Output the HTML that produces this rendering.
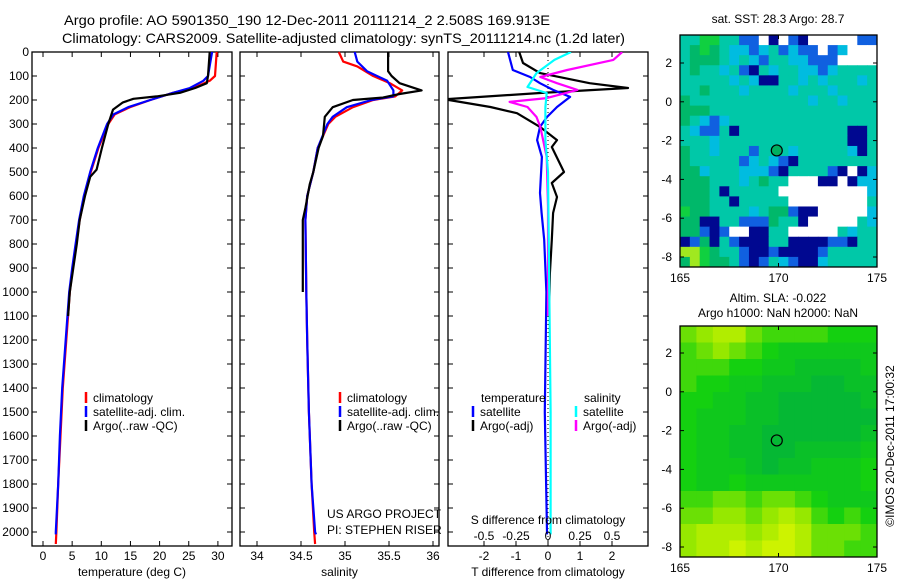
<!DOCTYPE html>
<html><head><meta charset="utf-8">
<style>
html,body{margin:0;padding:0;background:#fff;}
svg{display:block;font-family:"Liberation Sans",sans-serif;}
</style></head>
<body>
<svg id="chart" width="900" height="580" viewBox="0 0 900 580" xmlns="http://www.w3.org/2000/svg">
<rect width="900" height="580" fill="#fff"/>
<text x="64" y="25" font-size="14" textLength="486" lengthAdjust="spacingAndGlyphs">Argo profile: AO 5901350_190 12-Dec-2011 20111214_2 2.508S 169.913E</text>
<text x="62" y="43" font-size="14" textLength="563" lengthAdjust="spacingAndGlyphs">Climatology: CARS2009. Satellite-adjusted climatology: synTS_20111214.nc (1.2d later)</text>
<g id="g"></g>
</svg>
<script>
// ---------- profile data ----------
const tDepthClim = [0,100,120,150,170,200,230,260,300,400,500,600,700,800,900,1000,1200,1400,1600,1800,2000,2050];
const tClim      = [29.8,29.5,28.6,25.8,22.3,18.4,14.9,12.3,11.2,9.5,8.2,7.1,6.3,5.7,5.1,4.6,4.0,3.4,3.0,2.6,2.3,2.2];
const tDepthSat  = [0,100,120,150,170,200,230,260,300,400,500,600,700,800,900,1000,1200,1400,1600,1800,1900,2000,2010];
const tSat       = [29.0,28.3,27.5,25.2,22.3,18.4,14.6,12.1,11.0,9.4,8.1,7.0,6.2,5.6,5.0,4.5,3.9,3.3,2.9,2.6,2.4,2.2,2.2];
const tDepthArgo = [0,100,130,150,170,185,195,210,240,300,400,490,520,600,700,800,900,1000,1100];
const tArgo      = [28.6,28.3,28.1,26.1,23.5,19.5,15.5,13.7,12.0,11.2,10.1,9.2,8.1,7.2,6.3,5.8,5.2,4.6,4.3];

const sDepthClim = [0,40,60,100,130,160,185,200,230,270,300,400,500,600,700,1000,1200,1500,1800,2000,2050];
const sClim      = [34.93,34.98,35.14,35.32,35.51,35.65,35.57,35.32,35.09,34.89,34.81,34.69,34.64,34.57,34.55,34.56,34.57,34.59,34.62,34.65,34.66];
const sDepthSat  = [0,40,80,120,160,185,200,230,270,300,400,500,600,700,1000,1200,1500,1800,2000,2010];
const sSat       = [35.11,35.14,35.25,35.48,35.55,35.55,35.30,35.02,34.86,34.80,34.69,34.64,34.57,34.55,34.56,34.57,34.59,34.62,34.66,34.67];
const sDepthArgo = [0,80,100,130,160,175,190,200,230,270,350,400,500,550,650,700,1000];
const sArgo      = [35.49,35.49,35.53,35.62,35.87,35.62,35.43,35.09,34.86,34.77,34.75,34.70,34.64,34.60,34.55,34.52,34.52];

const dDepthTArgo = [0,46,88,130,150,171,196,200,229,255,312,367,396,500,546,604,671,783,921,1100];
const dTArgo      = [-0.9,-0.78,-0.25,1.3,2.5,-0.25,-3.1,-3.1,-1.8,-0.97,-0.25,0.28,0.12,0.5,0.12,0.28,0.16,0.12,0.06,0.03];
const dDepthTSat  = [0,75,104,130,158,187,229,271,312,367,437,587,671,783,1000,1500,2000,2010];
const dTSat       = [-1.25,-1.1,-0.56,-0.25,0.16,0.69,0.28,-0.03,-0.25,-0.34,-0.19,-0.25,-0.2,-0.12,-0.05,-0.1,-0.03,-0.03];
const dDepthSSat  = [0,33,88,146,171,229,367,500,1000,1500,2000,2010];
const dSSat       = [0.18,0.05,-0.09,-0.16,-0.01,-0.02,-0.02,0.0,0.01,0.02,0.02,0.02];
const dDepthSArgo = [0,33,75,104,130,158,192,208,229,271,312,437,646,921,1100];
const dSArgo      = [0.58,0.51,0.15,-0.06,0.07,0.23,-0.01,-0.30,-0.16,-0.09,-0.06,-0.01,0.0,0.0,0.0];

const depthTicks = [0,100,200,300,400,500,600,700,800,900,1000,1100,1200,1300,1400,1500,1600,1700,1800,1900,2000];
const tTicks = [0,5,10,15,20,25,30];
const sTicks = [34,34.5,35,35.5,36];
const sTickLabels = ["34","34.5","35","35.5","36"];
const dTTicks = [-2,-1,0,1,2];
const dSTicks = [-0.5,-0.25,0,0.25,0.5];
const dSTickLabels = ["-0.5","-0.25","0","0.25","0.5"];

// ---------- map data ----------
const sstRows = [
"ccGGccbbwnwbnwwwwwbb",
"cgGgcssbscbsbbwbswww",
"cgggcscsbccssbbbwwww",
"cgccscbncsccssbscccc",
"cccccscsnnccscscccsc",
"ccgcccsccccscccscccc",
"gccccccccccccsccsccc",
"gggccccccccccccccccc",
"gcsbsccccccccccccccc",
"csbbcncccccccccccnnc",
"cccscccccccccccccnnc",
"gccscccbcccscccccsnc",
"gcccccbscsbncccccccc",
"ggscccsssbnccccbnwns",
"gggcccscgccwwwnnwnss",
"gggcncccccwwwwwwwwws",
"gggccncccccwwwwwwwwc",
"Gggccccscggbnnwwwwws",
"ggnnccbbbgccnwwwwwcs",
"ggbnbwwnnccwwwwwcscc",
"nbgncbnnnccnnnnbbncc",
"yyGgccbnnbnnnnbccccc",
"gyGggcbnbcsbnnsccccc"];
const sstColors = {g:"#00b86a",G:"#10d040",c:"#00c8a8",s:"#00bce0",b:"#1060e0",n:"#000890",w:"#ffffff",y:"#a0e820"};
const slaRows = [
[.6,.7,.8,.8,.6,.5,.5,.5,.5,.4,.4,.4],
[.5,.6,.7,.6,.5,.4,.3,.3,.3,.3,.3,.3],
[.5,.5,.5,.4,.4,.3,.3,.2,.2,.2,.2,.3],
[.5,.4,.4,.3,.3,.2,.2,.2,.1,.1,.2,.2],
[.4,.4,.3,.3,.2,.2,.1,.1,.1,.1,.1,.2],
[.4,.3,.3,.3,.2,.2,.1,.1,.1,.1,.1,.1],
[.4,.3,.3,.2,.2,.1,.1,.1,.1,.1,.1,.2],
[.4,.3,.3,.2,.2,.1,.1,.2,.2,.2,.2,.3],
[.4,.3,.3,.3,.2,.1,.2,.2,.3,.3,.3,.4],
[.4,.3,.3,.4,.3,.3,.3,.3,.3,.3,.3,.4],
[.5,.5,.6,.6,.5,.6,.6,.5,.4,.3,.3,.3],
[.6,.6,.7,.7,.6,.7,.8,.7,.5,.4,.5,.4],
[.7,.8,.8,.8,.7,.8,.9,.8,.6,.6,.6,.5],
[.7,.8,.8,.9,.8,.9,.9,.8,.6,.6,.5,.5]];
const lonTicks = [165,170,175];
const latTicks = [2,0,-2,-4,-6,-8];
const argoLon = 169.913, argoLat = -2.508;

// ---------- drawing ----------
const NS="http://www.w3.org/2000/svg";
const G=document.getElementById('g');
function el(tag,attrs,parent){const e=document.createElementNS(NS,tag);for(const k in attrs)e.setAttribute(k,attrs[k]);(parent||G).appendChild(e);return e;}
function txt(s,x,y,anchor,size,parent){const t=el('text',{x:x,y:y,'text-anchor':anchor||'middle','font-size':size||12},parent);t.textContent=s;return t;}

const Y0=52, YK=0.24, YB=546;
const yS=d=>Y0+d*YK;

function panel(name,x0,x1,xScale,ticks,labels,xlabel,showY){
  const g=el('g',{});
  
  
  const r=el('rect',{x:x0,y:Y0,width:x1-x0,height:YB-Y0,fill:'none',stroke:'#000','stroke-width':1.3},g);
  
  
  ticks.forEach((v,i)=>{
    const x=xScale(v);
    el('line',{x1:x,x2:x,y1:Y0,y2:Y0+5,stroke:'#000'},g);
    el('line',{x1:x,x2:x,y1:YB,y2:YB-5,stroke:'#000'},g);
    if(labels){const t=txt(labels[i],x,560,'middle',12,g);
      
      }
  });
  depthTicks.forEach(d=>{
    const y=yS(d);
    el('line',{x1:x0,x2:x0+5,y1:y,y2:y,stroke:'#000'},g);
    el('line',{x1:x1,x2:x1-5,y1:y,y2:y,stroke:'#000'},g);
    if(showY){const t=txt(String(d),x0-3,y+4,'end',12,g);
      
      }
  });
  const xl=txt(xlabel,(x0+x1)/2,576,'middle',12,g);
  
  
  return g;
}
function line(g,xs,ds,xScale,color,name,clipId){
  const pts=xs.map((v,i)=>xScale(v).toFixed(1)+','+yS(ds[i]).toFixed(1)).join(' ');
  const p=el('polyline',{points:pts,fill:'none',stroke:color,'stroke-width':2.2,'stroke-linejoin':'round'},g);
  if(clipId)p.setAttribute('clip-path','url(#'+clipId+')');
  
  
}
function legend(g,items,x,y){
  items.forEach((it,i)=>{
    const yy=y+i*14;
    const m=el('line',{x1:x,x2:x,y1:yy-10,y2:yy+1,stroke:it[1],'stroke-width':2.5},g);
    
    
    const t=txt(it[0],x+7,yy,'start',12,g);
    
    
  });
}
const defs=el('defs',{});
const cp=el('clipPath',{id:'c3'},defs);
el('rect',{x:448,y:52,width:200,height:494},cp);

// panel 1 temperature
const tX=v=>43+v*5.83;
const p1=panel('temperature-panel',32,232,tX,tTicks,tTicks.map(String),'temperature (deg C)',true);
line(p1,tClim,tDepthClim,tX,'#ff0000','climatology-temperature-line');
line(p1,tSat,tDepthSat,tX,'#0000ff','satellite-temperature-line');
line(p1,tArgo,tDepthArgo,tX,'#000000','argo-temperature-line');
legend(p1,[['climatology','#ff0000'],['satellite-adj. clim.','#0000ff'],['Argo(..raw -QC)','#000']],86,402);

// panel 2 salinity
const sX=v=>257+(v-34)*88;
const p2=panel('salinity-panel',240,439,sX,sTicks,sTickLabels,'salinity',false);
line(p2,sClim,sDepthClim,sX,'#ff0000','climatology-salinity-line');
line(p2,sSat,sDepthSat,sX,'#0000ff','satellite-salinity-line');
line(p2,sArgo,sDepthArgo,sX,'#000000','argo-salinity-line');
legend(p2,[['climatology','#ff0000'],['satellite-adj. clim.','#0000ff'],['Argo(..raw -QC)','#000']],340,402);
let t=txt('US ARGO PROJECT',327,518,'start',12,p2);


t=txt('PI: STEPHEN RISER',327,534,'start',12,p2);



// panel 3 differences
const dTX=v=>548+v*32;
const dSX=v=>548+v*128;
const p3=panel('difference-panel',448,648,dTX,dTTicks,dTTicks.map(String),'T difference from climatology',false);
el('line',{x1:548,x2:548,y1:Y0,y2:YB,stroke:'#000','stroke-dasharray':'1,3'},p3);
line(p3,dTArgo,dDepthTArgo,dTX,'#000000','argo-temperature-diff-line','c3');
line(p3,dTSat,dDepthTSat,dTX,'#0000ff','satellite-temperature-diff-line','c3');
line(p3,dSArgo,dDepthSArgo,dSX,'#ff00ff','argo-salinity-diff-line','c3');
line(p3,dSSat,dDepthSSat,dSX,'#00ffff','satellite-salinity-diff-line','c3');
t=txt('temperature',481,402,'start',12,p3);


t=txt('salinity',584,402,'start',12,p3);


legend(p3,[['satellite','#0000ff'],['Argo(-adj)','#000']],473,416);
legend(p3,[['satellite','#00ffff'],['Argo(-adj)','#ff00ff']],576,416);
t=txt('S difference from climatology',548,524,'middle',12,p3);


dSTicks.forEach((v,i)=>{
  const tt=txt(dSTickLabels[i],dSX(v),540,'middle',12,p3);
  
  
});

// maps
const lonX=v=>680+(v-165)*19.7;
function mapFrame(g,top,bot,latY,name){
  const r=el('rect',{x:680,y:top,width:197,height:bot-top,fill:'none',stroke:'#000','stroke-width':1.3},g);
  
  
  lonTicks.forEach(v=>{
    const x=lonX(v);
    el('line',{x1:x,x2:x,y1:top,y2:top+4,stroke:'#000'},g);
    el('line',{x1:x,x2:x,y1:bot,y2:bot-4,stroke:'#000'},g);
    const tt=txt(String(v),x,bot+15,'middle',12,g);
    
    
  });
  latTicks.forEach(v=>{
    const y=latY(v);
    el('line',{x1:680,x2:684,y1:y,y2:y,stroke:'#000'},g);
    el('line',{x1:877,x2:873,y1:y,y2:y,stroke:'#000'},g);
    const tt=txt(String(v),672,y+4,'end',12,g);
    
    
  });
  const c=el('circle',{cx:lonX(argoLon),cy:latY(argoLat),r:5.5,fill:name==='sst-map'?'#00b060':'none',stroke:'#000','stroke-width':1.2},g);
  
  
}
// SST map
const m1=el('g',{});


const lat1=v=>101.8-v*19.4;
const cw1=197/20, ch1=232/23;
sstRows.forEach((row,r)=>{[...row].forEach((code,c)=>{
  const cell=el('rect',{x:680+c*cw1,y:35+r*ch1,width:cw1+0.5,height:ch1+0.5,fill:sstColors[code]},m1);
  
  
});});
mapFrame(m1,35,267,lat1,'sst-map');
t=txt('sat. SST: 28.3 Argo: 28.7',778,23,'middle',12,m1);



// SLA map
const m2=el('g',{});


const lat2=v=>391.8-v*19.4;
function slaColor(v){
  const stops=[[0,[0,176,64]],[0.4,[20,208,16]],[0.7,[150,232,0]],[1,[232,248,0]]];
  for(let i=1;i<stops.length;i++){if(v<=stops[i][0]){const a=stops[i-1],b=stops[i],f=(v-a[0])/(b[0]-a[0]);
    return 'rgb('+a[1].map((c,k)=>Math.round(c+(b[1][k]-c)*f)).join(',')+')';}}
  return 'rgb(232,248,0)';
}
const cw2=197/12, ch2=231/14;
slaRows.forEach((row,r)=>{row.forEach((v,c)=>{
  const cell=el('rect',{x:680+c*cw2,y:326+r*ch2,width:cw2+0.5,height:ch2+0.5,fill:slaColor(v)},m2);
  
  
});});
mapFrame(m2,326,557,lat2,'sla-map');
t=txt('Altim. SLA: -0.022',778,302,'middle',12,m2);


t=txt('Argo h1000: NaN h2000: NaN',778,317,'middle',12,m2);


t=txt('©IMOS 20-Dec-2011 17:00:32',0,0,'middle',12,G);
t.setAttribute('transform','translate(894,446) rotate(-90)');


</script>
</body></html>
